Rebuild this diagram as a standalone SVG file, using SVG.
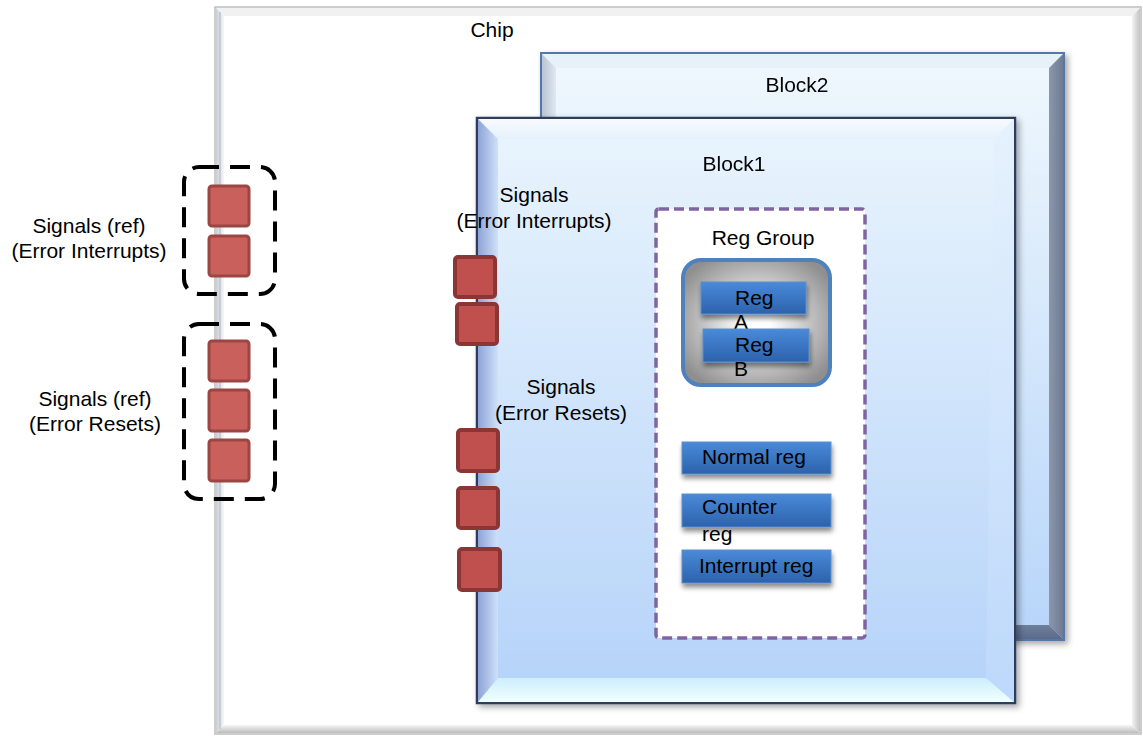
<svg xmlns="http://www.w3.org/2000/svg" width="1143" height="741" viewBox="0 0 1143 741">
<defs>
<linearGradient id="chipL" x1="0" y1="0" x2="1" y2="0"><stop offset="0" stop-color="#c9ced6"/><stop offset="1" stop-color="#f7f7f7"/></linearGradient>
<linearGradient id="chipR" x1="0" y1="0" x2="1" y2="0"><stop offset="0" stop-color="#f2f2f2"/><stop offset="1" stop-color="#c4c4c4"/></linearGradient>
<linearGradient id="chipB" x1="0" y1="0" x2="0" y2="1"><stop offset="0" stop-color="#f6f6f6"/><stop offset="1" stop-color="#bcbcbc"/></linearGradient>
<linearGradient id="face2" x1="0" y1="0" x2="0" y2="1"><stop offset="0" stop-color="#f0f8fd"/><stop offset="1" stop-color="#b7d5fa"/></linearGradient>
<linearGradient id="b2L" x1="0" y1="0" x2="1" y2="0"><stop offset="0" stop-color="#b9c3d2"/><stop offset="1" stop-color="#dfe8f2"/></linearGradient>
<linearGradient id="b2R" x1="0" y1="0" x2="1" y2="0"><stop offset="0" stop-color="#8c97a9"/><stop offset="1" stop-color="#6e7b95"/></linearGradient>
<linearGradient id="b2B" x1="0" y1="0" x2="0" y2="1"><stop offset="0" stop-color="#6f7f9c"/><stop offset="1" stop-color="#5a6b8c"/></linearGradient>
<linearGradient id="face1" x1="0" y1="0" x2="0" y2="1"><stop offset="0" stop-color="#eaf5fd"/><stop offset="1" stop-color="#b4d2f9"/></linearGradient>
<linearGradient id="b1L" x1="0" y1="0" x2="1" y2="0"><stop offset="0" stop-color="#8ea4d6"/><stop offset="1" stop-color="#cfe0f8"/></linearGradient>
<linearGradient id="b1R" x1="0" y1="0" x2="0" y2="1"><stop offset="0" stop-color="#e6f2fd"/><stop offset="1" stop-color="#bdd8fb"/></linearGradient>
<linearGradient id="b1B" x1="0" y1="0" x2="0" y2="1"><stop offset="0" stop-color="#cdeefc"/><stop offset="1" stop-color="#f0ffff"/></linearGradient>
<linearGradient id="b1T" x1="0" y1="0" x2="0" y2="1"><stop offset="0" stop-color="#f7fbff"/><stop offset="1" stop-color="#e4f1fc"/></linearGradient>
<linearGradient id="regFill" x1="0" y1="0" x2="0" y2="1"><stop offset="0" stop-color="#4a8ad8"/><stop offset="1" stop-color="#2c62ad"/></linearGradient>
<radialGradient id="grpFill" cx="0.5" cy="0.5" r="0.6"><stop offset="0.15" stop-color="#ffffff"/><stop offset="1" stop-color="#8f8f8f"/></radialGradient>
<filter id="shadow" x="-10%" y="-10%" width="130%" height="130%"><feDropShadow dx="3" dy="3" stdDeviation="3" flood-color="#000" flood-opacity="0.35"/></filter>
<filter id="regShadow" x="-10%" y="-20%" width="130%" height="160%"><feDropShadow dx="1" dy="4" stdDeviation="2.5" flood-color="#000" flood-opacity="0.45"/></filter>
</defs>
<style>
text{font-family:"Liberation Sans",Arial,sans-serif;font-size:21px;fill:#000}
.c{text-anchor:middle}
.sigL{fill:#c9605c;stroke:#9b4643;stroke-width:3}
.sigB{fill:#c0504d;stroke:#8b3634;stroke-width:4}
.reg{fill:url(#regFill);stroke:#5b8fd0;stroke-width:1;filter:url(#regShadow)}
.grpbox{fill:none;stroke:#000;stroke-width:4;stroke-dasharray:20 11}
</style>
<rect width="1143" height="741" fill="#ffffff"/>
<g id="chip">
<rect x="215" y="7" width="926" height="727" fill="#ffffff" stroke="#bdbdbd" stroke-width="1.5"/>
<polygon points="216,8 1140,8 1132,16 224,16" fill="#f1f1f1"/>
<polygon points="216,8 224,16 224,725 216,733" fill="url(#chipL)"/>
<polygon points="1140,8 1140,733 1132,725 1132,16" fill="url(#chipR)"/>
<polygon points="216,733 1140,733 1132,725 224,725" fill="url(#chipB)"/>
<line x1="220" y1="12" x2="220" y2="729" stroke="#aeb6c2" stroke-width="1"/>
<text x="492" y="37" class="c">Chip</text>
</g>
<g id="block2" filter="url(#shadow)">
<rect x="541" y="53" width="523" height="587" fill="url(#face2)" stroke="#5578a8" stroke-width="2"/>
<polygon points="542,54 1063,54 1049,68 556,68" fill="#e6f1fa"/>
<polygon points="542,54 556,68 556,625 542,639" fill="url(#b2L)"/>
<polygon points="1063,54 1063,639 1049,625 1049,68" fill="url(#b2R)"/>
<polygon points="542,639 1063,639 1049,625 556,625" fill="url(#b2B)"/>
<text x="797" y="92" class="c">Block2</text>
</g>
<g id="block1" filter="url(#shadow)">
<rect x="477" y="118" width="538" height="585" fill="url(#face1)" stroke="#2e3e5c" stroke-width="2.5"/>
<polygon points="478,119 1014,119 994,139 498,139" fill="url(#b1T)"/>
<polygon points="478,119 498,139 498,678 478,702" fill="url(#b1L)"/>
<polygon points="1014,119 1014,702 986,678 994,139" fill="url(#b1R)"/>
<polygon points="478,702 1014,702 986,678 498,678" fill="url(#b1B)"/>
<text x="734" y="171" class="c">Block1</text>
</g>
<g id="reg-group">
<rect x="656" y="209" width="209" height="429" rx="3" fill="#ffffff" stroke="#8064a2" stroke-width="3.5" stroke-dasharray="10 5"/>
<text x="763" y="245" class="c">Reg Group</text>
<rect x="683" y="260" width="147" height="125" rx="18" fill="url(#grpFill)" stroke="#4f81bd" stroke-width="4"/>
</g>
<g id="reg-a">
<rect x="701" y="282" width="105" height="32" class="reg"/>
<text x="735" y="305">Reg</text>
<text x="734" y="329">A</text>
</g>
<g id="reg-b">
<rect x="703" y="329" width="106" height="33" class="reg"/>
<text x="735" y="352">Reg</text>
<text x="734" y="376">B</text>
</g>
<g id="normal-reg">
<rect x="682" y="442" width="149" height="32" class="reg"/>
<text x="702" y="464">Normal reg</text>
</g>
<g id="counter-reg">
<rect x="682" y="494" width="149" height="33" class="reg"/>
<text x="702" y="514">Counter</text>
<text x="702" y="541">reg</text>
</g>
<g id="interrupt-reg">
<rect x="682" y="550" width="149" height="33" class="reg"/>
<text x="699" y="573">Interrupt reg</text>
</g>
<g id="block1-signals-interrupts">
<text x="534" y="202" class="c">Signals</text>
<text x="534" y="228" class="c">(Error Interrupts)</text>
<rect x="455" y="257" width="40" height="40" rx="3" class="sigB"/>
<rect x="457" y="304" width="40" height="40" rx="3" class="sigB"/>
</g>
<g id="block1-signals-resets">
<text x="561" y="394" class="c">Signals</text>
<text x="561" y="420" class="c">(Error Resets)</text>
<rect x="458" y="430" width="40" height="41" rx="3" class="sigB"/>
<rect x="458" y="488" width="40" height="40" rx="3" class="sigB"/>
<rect x="459" y="549" width="41" height="41" rx="3" class="sigB"/>
</g>
<g id="chip-signals-interrupts">
<text x="89" y="233" class="c">Signals (ref)</text>
<text x="89" y="258" class="c">(Error Interrupts)</text>
<rect x="209" y="186" width="40" height="40" rx="3" class="sigL"/>
<rect x="209" y="236" width="40" height="40" rx="3" class="sigL"/>
<rect x="184" y="167" width="91" height="127" rx="15" class="grpbox"/>
</g>
<g id="chip-signals-resets">
<text x="95" y="406" class="c">Signals (ref)</text>
<text x="95" y="431" class="c">(Error Resets)</text>
<rect x="209" y="341" width="40" height="40" rx="3" class="sigL"/>
<rect x="209" y="390" width="40" height="41" rx="3" class="sigL"/>
<rect x="209" y="440" width="40" height="41" rx="3" class="sigL"/>
<rect x="184" y="324" width="91" height="175" rx="15" class="grpbox"/>
</g>
<g id="connectors"/>
</svg>
